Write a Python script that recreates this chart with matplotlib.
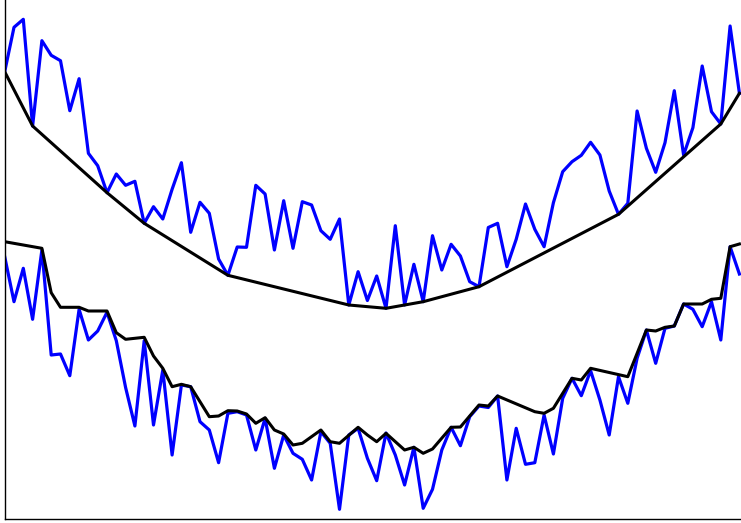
"""
Noisy parabolas with their lower hull / upper envelope
"""

import numpy as np
import matplotlib.pyplot as plt

# upper series (noisy bowl) and its samples
upper = [446.8, 491.2, 499.2, 392.5, 477.8, 463.2, 457.8, 407.8, 439.8, 365.2,
         352.8, 325.8, 344.5, 333.2, 337.2, 295.2, 311.8, 299.5, 329.2, 355.8,
         286.2, 316.2, 305.2, 259.5, 243.2, 271.5, 271.2, 333.2, 324.5, 268.5,
         317.8, 270.2, 316.8, 313.5, 287.8, 279.2, 299.5, 213.5, 246.8, 218.0,
         242.5, 210.2, 292.8, 213.5, 254.2, 216.8, 282.8, 248.5, 274.2, 262.5,
         236.8, 231.8, 291.0, 295.2, 251.8, 279.2, 314.5, 289.2, 271.8, 315.8,
         346.8, 356.8, 363.2, 376.2, 363.5, 327.5, 304.2, 315.2, 407.5, 370.2,
         346.2, 375.8, 427.8, 363.5, 390.8, 452.5, 406.8, 394.5, 492.5, 425.2]

# lower series
lower = [261.8, 216.8, 250.2, 199.2, 268.5, 163.5, 164.5, 142.8, 209.2, 178.5,
         187.5, 206.2, 177.8, 131.0, 92.5, 177.8, 93.5, 148.5, 63.5, 133.5,
         131.8, 96.8, 88.5, 55.8, 105.2, 106.8, 103.5, 68.5, 100.2, 50.2,
         83.5, 65.2, 59.2, 38.5, 86.8, 75.2, 9.2, 83.5, 90.2, 60.2,
         37.8, 85.5, 63.5, 33.5, 71.2, 10.2, 29.2, 68.5, 91.2, 72.8,
         101.8, 112.5, 111.0, 122.5, 38.5, 90.2, 54.2, 55.8, 103.5, 64.5,
         120.2, 140.2, 122.8, 147.8, 118.5, 83.5, 141.8, 115.2, 160.2, 188.5,
         155.2, 190.2, 192.5, 214.5, 209.2, 191.8, 216.8, 178.5, 271.8, 244.5]

# envelope of the lower series, given at its break points
env_idx = [0, 4, 5, 6, 8, 9, 11, 12, 13, 15, 16, 17, 18, 19, 20, 22, 23, 24, 25,
           26, 27, 28, 29, 30, 31, 32, 34, 35, 36, 38, 39, 40, 41, 43, 44, 45,
           46, 48, 49, 51, 52, 53, 57, 58, 59, 61, 62, 63, 67, 69, 70, 71, 72,
           73, 75, 76, 77, 78, 79]
env_val = [276.8, 270.2, 225.8, 211.2, 211.2, 207.5, 207.5, 185.8, 179.2, 181.2,
           162.5, 150.2, 131.8, 134.2, 131.8, 101.8, 102.5, 107.8, 107.5, 104.5,
           95.2, 100.8, 88.5, 84.5, 73.5, 75.2, 88.5, 76.8, 75.2, 91.2,
           83.5, 76.8, 85.2, 68.5, 71.2, 65.2, 69.5, 91.2, 91.5, 113.5,
           112.5, 122.5, 106.8, 105.2, 110.2, 140.2, 138.5, 150.2, 141.8, 188.5,
           187.5, 191.2, 192.5, 214.5, 214.5, 219.2, 220.2, 271.8, 274.5]


def lower_hull(x, y):
    # monotone chain, keeps the lower side only
    hull = []
    for p in zip(x, y):
        while len(hull) >= 2:
            (x1, y1), (x2, y2) = hull[-2], hull[-1]
            if (x2 - x1) * (p[1] - y1) - (y2 - y1) * (p[0] - x1) <= 0:
                hull.pop()
            else:
                break
        hull.append(p)
    return np.array(hull)


x = np.arange(len(upper))
hull = lower_hull(x, upper)

fig = plt.figure(figsize=(7.41, 5.23), dpi=100)
ax = fig.add_axes([4.7 / 741, 4.5 / 523, 736.3 / 741, 518.5 / 523])

ax.plot(x, upper, color="blue", lw=2.3)
ax.plot(hull[:, 0], hull[:, 1], color="black", lw=2.2)
ax.plot(x, lower, color="blue", lw=2.3)
ax.plot(env_idx, env_val, color="black", lw=2.2)

ax.set_xlim(0, 736.3 / 9.3)
ax.set_ylim(0, 518.5)
ax.set_xticks([])
ax.set_yticks([])
for side in ["top", "right"]:
    ax.spines[side].set_visible(False)
for side in ["left", "bottom"]:
    ax.spines[side].set_linewidth(1.0)

fig.savefig("out.png", dpi=100)
